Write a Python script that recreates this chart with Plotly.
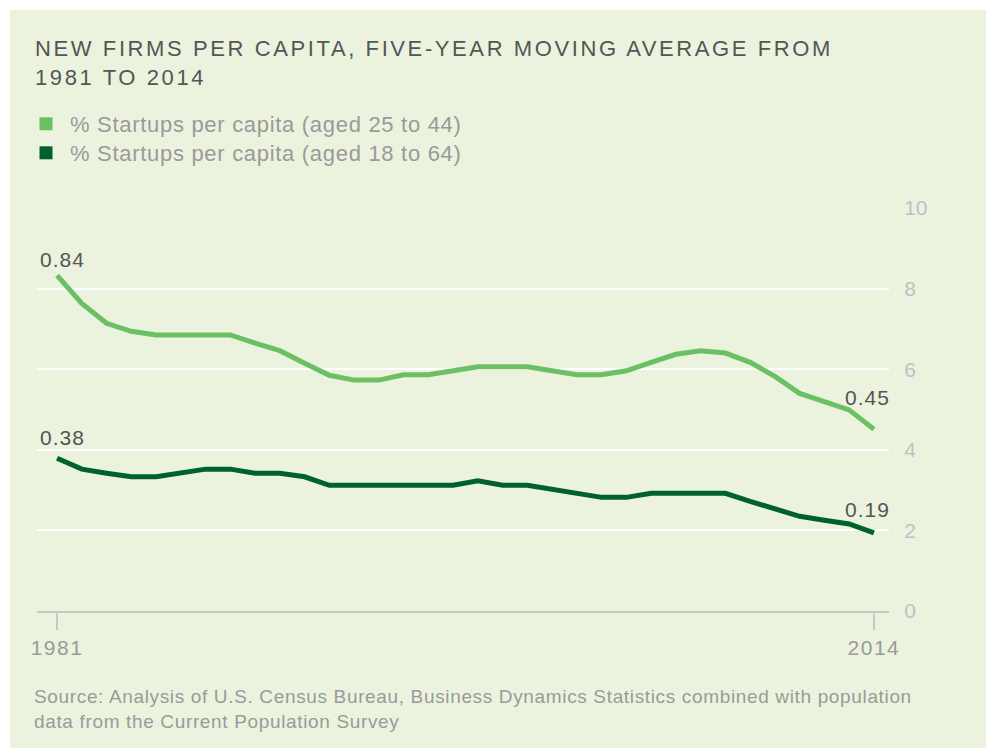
import plotly.graph_objects as go

years = list(range(1981, 2015))
startups_25_44 = [8.33, 7.63, 7.14, 6.94, 6.85, 6.85, 6.85, 6.85, 6.65, 6.46,
                  6.15, 5.85, 5.73, 5.73, 5.86, 5.86, 5.96, 6.06, 6.06, 6.06,
                  5.96, 5.86, 5.86, 5.96, 6.17, 6.37, 6.46, 6.40, 6.17, 5.82,
                  5.40, 5.20, 4.99, 4.51]
startups_18_64 = [3.79, 3.52, 3.42, 3.33, 3.33, 3.42, 3.52, 3.52, 3.42, 3.42,
                  3.33, 3.12, 3.12, 3.12, 3.12, 3.12, 3.12, 3.23, 3.12, 3.12,
                  3.02, 2.92, 2.82, 2.82, 2.92, 2.92, 2.92, 2.92, 2.72, 2.54,
                  2.35, 2.25, 2.16, 1.94]
series_names = ["% Startups per capita (aged 25 to 44)",
                "% Startups per capita (aged 18 to 64)"]
first_labels = ["0.84", "0.38"]
last_labels = ["0.45", "0.19"]
y_ticks = [0, 2, 4, 6, 8, 10]
x_ticks = [years[0], years[-1]]
title_lines = ["NEW FIRMS PER CAPITA, FIVE-YEAR MOVING AVERAGE FROM", "1981 TO 2014"]
source_lines = ["Source: Analysis of U.S. Census Bureau, Business Dynamics Statistics combined with population",
                "data from the Current Population Survey"]

LIGHT = "#6cc064"
DARK = "#00612a"
BG = "#ebf3df"
FONT = "Liberation Sans"


def spaced(s, px):
    return f"<span style='letter-spacing:{px}px'>{s}</span>"


W, H = 986, 748
ML, MR, MT, MB = 37, 97, 208, 137
PW = W - ML - MR
PH = H - MT - MB


def px_x(p):
    return (p - ML) / PW


def px_y(p):
    return (H - MB - p) / PH


fig = go.Figure()
colors = [LIGHT, DARK]
data = [startups_25_44, startups_18_64]
for name, vals, c in zip(series_names, data, colors):
    fig.add_trace(go.Scatter(x=years, y=vals, mode="lines",
                             line=dict(color=c, width=5), showlegend=False,
                             hoverinfo="skip"))
legend_ids = ["legend", "legend2"]
for name, c, lid in zip(series_names, colors, legend_ids):
    fig.add_trace(go.Scatter(x=[None], y=[None], mode="markers", name=spaced(name, 0.7),
                             marker=dict(symbol="square", size=13, color=c), legend=lid))

annotations = []
first_shift = [16, 21]
last_shift = [32, 23]
for i, vals in enumerate(data):
    annotations.append(dict(x=years[0], y=vals[0], text=spaced(first_labels[i], 1), showarrow=False,
                            xanchor="left", yanchor="middle", xshift=-19, yshift=first_shift[i],
                            font=dict(family=FONT, size=21, color="#555555")))
    annotations.append(dict(x=years[-1], y=vals[-1], text=spaced(last_labels[i], 1), showarrow=False,
                            xanchor="right", yanchor="middle", xshift=18, yshift=last_shift[i],
                            font=dict(family=FONT, size=21, color="#555555")))

annotations.append(dict(xref="paper", yref="paper", x=px_x(33), y=px_y(63),
                        xanchor="left", yanchor="middle", align="left", showarrow=False,
                        text="<br>".join(spaced(s, 2.6) for s in title_lines),
                        font=dict(family=FONT, size=22, color="#555555")))
annotations.append(dict(xref="paper", yref="paper", x=px_x(32), y=px_y(709),
                        xanchor="left", yanchor="middle", align="left", showarrow=False,
                        text="<br>".join(spaced(s, 0.65) for s in source_lines),
                        font=dict(family=FONT, size=19, color="#9a9a9a")))

shapes = [
    dict(type="rect", xref="paper", yref="paper", layer="below",
         x0=px_x(0), x1=px_x(10), y0=px_y(H), y1=px_y(0),
         fillcolor="white", line=dict(width=0)),
    dict(type="rect", xref="paper", yref="paper", layer="below",
         x0=px_x(0), x1=px_x(W), y0=px_y(10), y1=px_y(0),
         fillcolor="white", line=dict(width=0)),
]

legend_style = dict(xanchor="left", yanchor="top", bgcolor="rgba(0,0,0,0)",
                    font=dict(family=FONT, size=22, color="#9a9a9a"), itemwidth=38)

fig.update_layout(
    width=W, height=H,
    margin=dict(l=ML, r=MR, t=MT, b=MB, pad=0),
    paper_bgcolor=BG, plot_bgcolor=BG,
    font=dict(family=FONT),
    legend=dict(x=px_x(22), y=px_y(103), **legend_style),
    legend2=dict(x=px_x(22), y=px_y(132), **legend_style),
    xaxis=dict(range=[1980.19, 2014.61], tickvals=x_ticks,
               ticktext=[spaced(str(v), 1.5) for v in x_ticks], ticks="outside", ticklen=17,
               tickwidth=2, tickcolor="#c8c8c8", showline=True, linecolor="#c8c8c8",
               linewidth=2, showgrid=False, zeroline=False,
               tickfont=dict(family=FONT, size=21, color="#9a9a9a")),
    yaxis=dict(range=[0, 10], tickvals=y_ticks, side="right", showgrid=True,
               gridcolor="white", gridwidth=2, zeroline=False, ticks="outside",
               ticklen=10, tickcolor="rgba(0,0,0,0)",
               tickfont=dict(family=FONT, size=21, color="#c0c0c8")),
    annotations=annotations,
    shapes=shapes,
)

fig.write_html("out.html", config={"displayModeBar": False},
               post_script="document.body.style.margin='0';document.body.style.overflow='hidden';"
                           f"document.body.style.background='{BG}';"
                           f"document.documentElement.style.background='{BG}';")
